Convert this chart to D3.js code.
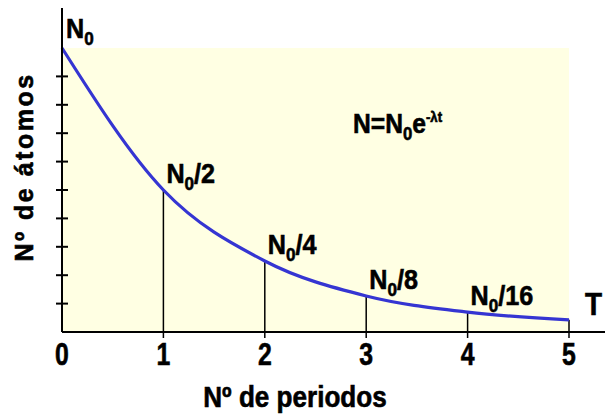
<!DOCTYPE html>
<html>
<head>
<meta charset="utf-8">
<script src="https://cdn.jsdelivr.net/npm/d3@7"></script>
<style>
	body { margin: 0; background: #fff; }
	text { font-family: "Liberation Sans", Arial, sans-serif; font-weight: bold; fill: #000; stroke: #000; stroke-width: 0.6px; }
</style>
</head>
<body>
<div id="chart"></div>
<script>
// values (fraction of N0 remaining after each period)
const periods = [0, 1, 2, 3, 4, 5];
const remaining = [1, 0.5, 0.25, 0.127, 0.07, 0.043];
const pointLabels = ["", "/2", "/4", "/8", "/16", ""];
const yTicks = [0.1, 0.2, 0.3, 0.4, 0.5, 0.6, 0.7, 0.8, 0.9];

const W = 605, H = 418;
const margin = { top: 48, right: 36, bottom: 86, left: 62 };

const svg = d3.select("#chart").append("svg")
	.attr("width", W)
	.attr("height", H);

const x = d3.scaleLinear().domain([0, 5]).range([margin.left, W - margin.right]);
const y = d3.scaleLinear().domain([0, 1]).range([H - margin.bottom, margin.top]);

// condensed text: place with a horizontal squeeze
const squeeze = (sx) => (px, py) => `translate(${px},${py}) scale(${sx},1)`;

// pale yellow plot area
svg.append("rect")
	.attr("x", x(0))
	.attr("y", y(1))
	.attr("width", x(5) - x(0))
	.attr("height", y(0) - y(1))
	.attr("fill", "#ffffe3");

// drop lines from each period to the curve
svg.selectAll("line.drop")
	.data(periods.slice(1))
	.enter().append("line")
	.attr("class", "drop")
	.attr("x1", d => x(d)).attr("x2", d => x(d))
	.attr("y1", d => y(remaining[d]))
	.attr("y2", y(0) + 6)
	.attr("stroke", "#000")
	.attr("stroke-width", 1.5);

// decay curve
const line = d3.line()
	.x((d, i) => x(periods[i]))
	.y(d => y(d))
	.curve(d3.curveMonotoneX);

svg.append("path")
	.datum(remaining)
	.attr("d", line)
	.attr("fill", "none")
	.attr("stroke", "#3535d2")
	.attr("stroke-width", 3.2);

// axes drawn as plain lines
svg.append("line")
	.attr("x1", x(0)).attr("x2", W)
	.attr("y1", y(0)).attr("y2", y(0))
	.attr("stroke", "#000").attr("stroke-width", 2);

svg.append("line")
	.attr("x1", x(0)).attr("x2", x(0))
	.attr("y1", 8).attr("y2", y(0))
	.attr("stroke", "#000").attr("stroke-width", 2);

svg.selectAll("line.ytick")
	.data(yTicks)
	.enter().append("line")
	.attr("class", "ytick")
	.attr("x1", x(0) - 6).attr("x2", x(0) + 6)
	.attr("y1", d => y(d)).attr("y2", d => y(d))
	.attr("stroke", "#000").attr("stroke-width", 2);

// x tick labels
svg.selectAll("text.xlab")
	.data(periods)
	.enter().append("text")
	.attr("class", "xlab")
	.attr("transform", d => squeeze(0.8)(x(d), y(0) + 33))
	.attr("text-anchor", "middle")
	.style("font-size", "31px")
	.text(d => d);

// labels N0/2 ... at each point
const ptLab = svg.selectAll("text.pt")
	.data(periods.filter(d => pointLabels[d]))
	.enter().append("text")
	.attr("class", "pt")
	.attr("transform", d => squeeze(0.9)(x(d) + 3, y(remaining[d]) - 7))
	.style("font-size", "28px");
ptLab.append("tspan").text("N");
ptLab.append("tspan").attr("dy", 7).style("font-size", "19px").text("0");
ptLab.append("tspan").attr("dy", -7).text(d => pointLabels[d]);

// N0 at top of y axis
const n0 = svg.append("text")
	.attr("transform", squeeze(0.9)(x(0) + 4, 38))
	.style("font-size", "28px");
n0.append("tspan").text("N");
n0.append("tspan").attr("dy", 7).style("font-size", "19px").text("0");

// formula
const f = svg.append("text")
	.attr("transform", squeeze(0.88)(353, 133))
	.style("font-size", "28px");
f.append("tspan").text("N=N");
f.append("tspan").attr("dy", 7).style("font-size", "19px").text("0");
f.append("tspan").attr("dy", -7).text("e");
f.append("tspan").attr("dy", -11).style("font-size", "15px").text("-λt");

svg.append("text")
	.attr("transform", squeeze(0.9)(585, 315))
	.style("font-size", "31px")
	.text("T");

svg.append("text")
	.attr("transform", squeeze(0.9)(295, 407))
	.attr("text-anchor", "middle")
	.style("font-size", "29px")
	.text("Nº de periodos");

svg.append("text")
	.attr("transform", `translate(33,167) rotate(-90)`)
	.attr("text-anchor", "middle")
	.style("letter-spacing", "2.5px")
	.style("font-size", "25px")
	.text("Nº de átomos");
</script>
</body>
</html>
